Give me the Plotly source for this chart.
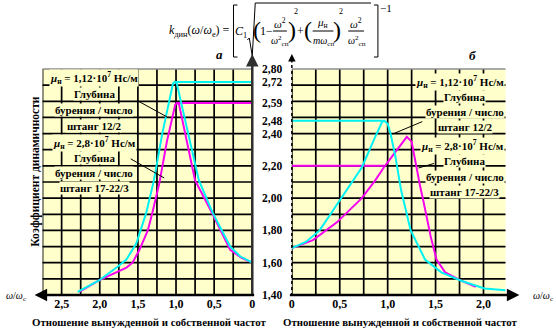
import plotly.graph_objects as go

W, H = 556, 333
SERIF = "Liberation Serif"
BG = "#FFFFCC"
CYAN = "#00F2F2"
MAGENTA = "#F800F0"

# Panel а: frequency ratio (axis runs right-to-left) vs dynamic factor
a_ratio_12 = [0, 0.16, 0.29, 0.52, 0.70, 0.85, 0.99, 1.015, 1.04, 1.18, 1.29, 1.39, 1.52, 1.65, 1.78, 2.01, 2.29]
a_kdyn_12 = [1.60, 1.64, 1.70, 1.91, 2.11, 2.43, 2.71, 2.72, 2.71, 2.40, 2.11, 1.91, 1.72, 1.62, 1.57, 1.49, 1.42]
a_ratio_17 = [0, 0.14, 0.29, 0.53, 0.75, 0.88, 0.96, 0.985, 1.01, 1.12, 1.22, 1.31, 1.37, 1.48, 1.57, 1.65, 1.78, 2.01, 2.27]
a_kdyn_17 = [1.60, 1.63, 1.68, 1.91, 2.11, 2.40, 2.58, 2.59, 2.58, 2.35, 2.09, 1.91, 1.80, 1.68, 1.60, 1.57, 1.54, 1.49, 1.42]
# resonance peaks carried over to the k axis
a_peak_level = [2.72, 2.59]
a_peak_ratio = [1.015, 0.985]

# Panel б
b_ratio_12 = [0, 0.15, 0.29, 0.47, 0.58, 0.73, 0.87, 0.94, 0.965, 1.0, 1.03, 1.08, 1.14, 1.24, 1.39, 1.56, 1.76, 2.01, 2.23]
b_kdyn_12 = [1.69, 1.73, 1.80, 1.96, 2.05, 2.19, 2.38, 2.47, 2.48, 2.46, 2.40, 2.26, 2.05, 1.80, 1.62, 1.54, 1.49, 1.44, 1.43]
b_ratio_17 = [0, 0.22, 0.47, 0.73, 0.87, 0.96, 1.06, 1.15, 1.20, 1.25, 1.29, 1.34, 1.37, 1.45, 1.51, 1.60, 1.76, 1.92]
b_kdyn_17 = [1.69, 1.74, 1.85, 2.00, 2.11, 2.19, 2.27, 2.34, 2.38, 2.35, 2.22, 2.07, 1.99, 1.76, 1.62, 1.54, 1.49, 1.45]
b_level = [2.48, 2.20]
b_level_ratio = [0.965, 0.96]

k_ticks = [1.40, 1.60, 1.80, 2.00, 2.20, 2.40, 2.48, 2.59, 2.72, 2.80]
ratio_ticks = [0, 0.5, 1.0, 1.5, 2.0, 2.5]

K_RANGE = [1.4, 2.8]
A_RANGE = [2.75, 0]
B_RANGE = [0, 2.23]


def comma(v, nd):
    return f"{v:.{nd}f}".replace(".", ",")


ratio_labels = ["0" if v == 0 else comma(v, 1) for v in ratio_ticks]
k_labels = [comma(v, 2) for v in k_ticks]


def px(x):
    return x / W


def py(y):
    return 1 - y / H


fig = go.Figure()


def curve(x, y, color, xa, ya):
    fig.add_trace(go.Scatter(x=x, y=y, mode="lines", xaxis=xa, yaxis=ya,
                             line=dict(color=color, width=2), hoverinfo="skip"))


# peak level lines
curve([0, a_peak_ratio[0]], [a_peak_level[0]] * 2, CYAN, "x", "y")
curve([0, a_peak_ratio[1]], [a_peak_level[1]] * 2, MAGENTA, "x", "y")
curve([0, b_level_ratio[0]], [b_level[0]] * 2, CYAN, "x2", "y2")
curve([0, b_level_ratio[1]], [b_level[1]] * 2, MAGENTA, "x2", "y2")
# response curves
curve(a_ratio_17, a_kdyn_17, MAGENTA, "x", "y")
curve(a_ratio_12, a_kdyn_12, CYAN, "x", "y")
curve(b_ratio_17, b_kdyn_17, MAGENTA, "x2", "y2")
curve(b_ratio_12, b_kdyn_12, CYAN, "x2", "y2")

tickfont = dict(family=SERIF, size=12, color="black", weight="bold")
ydom = [py(295), py(69)]

xcommon = dict(tickmode="array", tickvals=ratio_ticks, ticktext=ratio_labels, tickfont=tickfont,
               showgrid=False, zeroline=False, ticks="")
ycommon = dict(range=K_RANGE, showticklabels=False, domain=ydom, showgrid=False, zeroline=False, ticks="")

fig.update_layout(
    width=W, height=H, margin=dict(l=0, r=0, t=0, b=0),
    paper_bgcolor="white", plot_bgcolor=BG, showlegend=False,
    xaxis=dict(domain=[px(40), px(252)], range=A_RANGE, anchor="y", **xcommon),
    yaxis=dict(anchor="x", **ycommon),
    xaxis2=dict(domain=[px(292), px(508)], range=B_RANGE, anchor="y2", **xcommon),
    yaxis2=dict(anchor="x2", **ycommon),
)

ann = []
shapes = []

# grid: every 0.1 on k, every 0.25 on the frequency ratio
GRID = dict(color="black", width=1.7)
n_k = round((K_RANGE[1] - K_RANGE[0]) / 0.1)
for xa, ya, xr in (("x", "y", A_RANGE), ("x2", "y2", B_RANGE)):
    for i in range(n_k):
        kv = K_RANGE[0] + 0.1 * i
        shapes.append(dict(type="line", xref=f"{xa} domain", yref=ya, x0=0, x1=1, y0=kv, y1=kv,
                           line=GRID, layer="below"))
    hi = max(xr)
    j = 0
    while 0.25 * j <= hi + 1e-9:
        xv = 0.25 * j
        shapes.append(dict(type="line", xref=xa, yref=f"{ya} domain", x0=xv, x1=xv, y0=0, y1=1,
                           line=GRID, layer="below"))
        j += 1


def text(x, y, s, size=11, xanchor="center", bg=None, **kw):
    d = dict(x=px(x), y=py(y), xref="paper", yref="paper", text=s, showarrow=False,
             xanchor=xanchor, yanchor="middle", font=dict(family=SERIF, size=size, color="black"),
             borderpad=0)
    if bg:
        d["bgcolor"] = bg
    d.update(kw)
    ann.append(d)


def seg(x0, y0, x1, y1, width=1, color="black", dash=None):
    line = dict(color=color, width=width)
    if dash:
        line["dash"] = dash
    shapes.append(dict(type="line", xref="paper", yref="paper", x0=px(x0), y0=py(y0),
                       x1=px(x1), y1=py(y1), line=line, layer="above"))


def arrow(xt, yt, xs, ys, width=2.5, color="black", head=2, size=1):
    ann.append(dict(x=px(xt), y=py(yt), xref="paper", yref="paper", text="", showarrow=True,
                    ax=xs - xt, ay=ys - yt, axref="pixel", ayref="pixel", arrowhead=head,
                    arrowsize=size, arrowwidth=width, arrowcolor=color, standoff=0, startstandoff=0))


# k-axis labels between the panels
for v, lab in zip(k_ticks, k_labels):
    ann.append(dict(x=px(272), y=v, xref="paper", yref="y", text=f"<b>{lab}</b>", showarrow=False,
                    xanchor="center", yanchor="middle", font=dict(family=SERIF, size=11.5, color="black")))

# frame: top edges, axes with arrows
seg(40, 69, 252, 69, width=1.5, color="#8c8c8c")
seg(292, 69, 508, 69, width=1.5, color="#8c8c8c")
arrow(252, 54, 252, 296, width=2.5, color="#303030")
arrow(32, 295, 253, 295, width=2.5)
seg(292, 296, 292, 62, width=1.5, dash="dot")
arrow(292, 54, 292, 64, width=1.5)
arrow(522, 295, 291, 295, width=2.5)

text(13, 296, "<i>ω</i>/<i>ω</i><sub>с</sub>", size=10)
text(546, 296, "<i>ω</i>/<i>ω</i><sub>с</sub>", size=10)

title = "<b>Отношение вынужденной и собственной частот</b>"
text(148, 322, title, size=10.8)
text(401, 322, title, size=10.8)
text(32, 172, "<b>Коэффициент динамичности</b>", size=11.5, textangle=-90)

text(219, 55, "<b><i>а</i></b>", size=13)
text(475, 56, "<b><i>б</i></b>", size=13)

# parameter captions
mu1 = "<b><i>μ</i><sub>н</sub> = 1,12·10<sup>7</sup> Нс/м</b>"
mu2 = "<b><i>μ</i><sub>н</sub> = 2,8·10<sup>7</sup> Нс/м</b>"
left_lines = [(78, mu1), (94, "<b>Глубина</b>"), (110, "<b>бурения / число</b>"), (126, "<b>штанг 12/2</b>"),
              (143, mu2), (158, "<b>Глубина</b>"), (173, "<b>бурения / число</b>"), (188, "<b>штанг 17-22/3</b>")]
for yy, s in left_lines:
    text(92, yy, s, size=11, bg=BG)
right_lines = [(97, "<b>Глубина</b>"), (112, "<b>бурения / число</b>"), (127, "<b>штанг 12/2</b>"),
               (161, "<b>Глубина</b>"), (177, "<b>бурения / число</b>"), (192, "<b>штанг 17-22/3</b>")]
for yy, s in right_lines:
    text(467, yy, s, size=11, bg=BG)
text(507, 82, mu1, size=11, xanchor="right", bg=BG)
text(507, 146, mu2, size=11, xanchor="right", bg=BG)

# leader lines
arrow(166, 117, 135, 100, width=1, head=0)
arrow(163, 178, 128, 158, width=1, head=0)
arrow(394, 134, 425, 121, width=1, head=0)
arrow(420, 168, 437, 163, width=1, head=0)

# formula for the dynamic factor
text(230, 31, "<i>k</i><sub>дин</sub>(<i>ω</i>/<i>ω</i><sub>е</sub>) =", size=12, xanchor="right")
shapes.append(dict(type="path", xref="paper", yref="paper", layer="above",
                   path=f"M {px(237)},{py(5)} L {px(233)},{py(5)} L {px(233)},{py(57)} L {px(237)},{py(57)}",
                   line=dict(color="black", width=1)))
shapes.append(dict(type="path", xref="paper", yref="paper", layer="above",
                   path=f"M {px(375)},{py(5)} L {px(379)},{py(5)} L {px(379)},{py(57)} L {px(375)},{py(57)}",
                   line=dict(color="black", width=1)))
text(387, 8, "−1", size=11)
text(241, 32, "<i>C</i><sub>1</sub>", size=12)
shapes.append(dict(type="path", xref="paper", yref="paper", layer="above",
                   path=(f"M {px(247)},{py(40)} L {px(249)},{py(38)} L {px(252)},{py(56)} "
                         f"L {px(255)},{py(3)} L {px(372)},{py(3)}"),
                   line=dict(color="black", width=1)))
text(257, 30, "(", size=24)
text(266, 31, "1−", size=12)
text(280, 23, "<i>ω</i><sup>2</sup>", size=11)
seg(273, 31, 287, 31)
text(280, 41, "<i>ω</i><sup>2</sup><sub>сп</sub>", size=10)
text(292, 30, ")", size=24)
text(296, 12, "2", size=8)
text(301, 31, "+", size=12)
text(308, 30, "(", size=24)
text(323, 23, "<i>μ</i><sub>н</sub>", size=11)
seg(313, 31, 334, 31)
text(324, 41, "<i>mω</i><sub>сп</sub>", size=10)
text(338, 30, ")", size=24)
text(342, 12, "2", size=8)
text(357, 23, "<i>ω</i><sup>2</sup>", size=11)
seg(349, 31, 365, 31)
text(358, 41, "<i>ω</i><sup>2</sup><sub>сп</sub>", size=10)

fig.update_layout(annotations=ann, shapes=shapes)
fig.write_html("out.html")
